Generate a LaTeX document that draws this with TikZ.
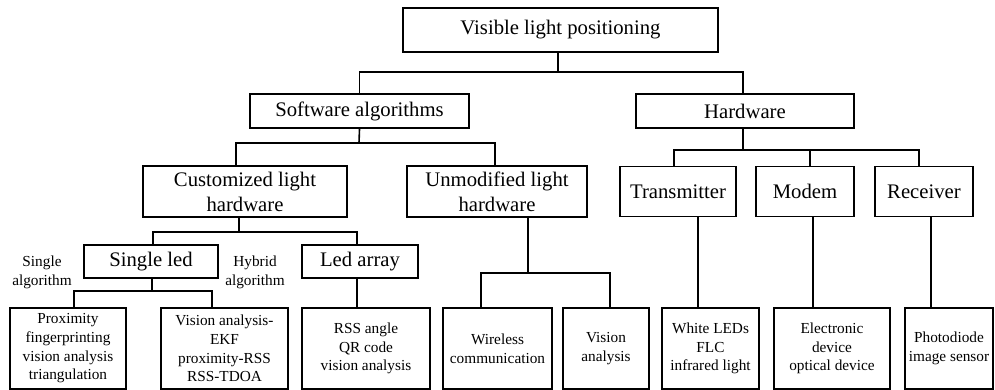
\documentclass[tikz,border=0pt]{standalone}
\usepackage{fontspec}
\setmainfont{Liberation Serif}
\begin{document}
\begin{tikzpicture}[x=1pt,y=-1pt,
  box/.style={draw,line width=1.9pt,inner sep=0pt,align=center,
    font=\fontsize{20.7}{25}\selectfont},
  leaf/.style={box,minimum height=81pt,font=\fontsize{15.3}{18.7}\selectfont},
  lbl/.style={inner sep=0pt,align=center,font=\fontsize{15.3}{19}\selectfont},
  conn/.style={line width=1.6pt}]
\useasboundingbox (0,0) rectangle (995,390);
% level 0
\node[box,minimum width=315pt,minimum height=44pt] (vlp) at (560.5,30) {Visible light positioning};
% level 1
\node[box,minimum width=219pt,minimum height=34pt] (sw) at (359.5,111) {Software algorithms};
\node[box,minimum width=218pt,minimum height=34pt] (hw) at (745,111) {Hardware};
% level 2
\node[box,minimum width=204pt,minimum height=51pt] (cust) at (245,191.5) {Customized light\\hardware};
\node[box,minimum width=180pt,minimum height=51pt] (unmod) at (497,191.5) {Unmodified light\\hardware};
\node[box,minimum width=116pt,minimum height=50pt] (trans) at (678,191.5) {Transmitter};
\node[box,minimum width=98pt,minimum height=50pt] (modem) at (805,191.5) {Modem};
\node[box,minimum width=98pt,minimum height=50pt] (recv) at (924,191.5) {Receiver};
% level 3
\node[box,minimum width=134pt,minimum height=33pt] (single) at (151,261.5) {Single led};
\node[box,minimum width=116pt,minimum height=33pt] (ledarr) at (360,261.5) {Led array};
\node[lbl] (salg) at (42,272) {Single\\algorithm};
\node[lbl] (halg) at (255,272) {Hybrid\\algorithm};
% leaves
\node[leaf,minimum width=116pt] (prox) at (68,348.5) {Proximity\\fingerprinting\\vision analysis\\triangulation};
\node[leaf,minimum width=127pt] (visekf) at (224.5,348.5) {Vision analysis-\\EKF\\proximity-RSS\\RSS-TDOA};
\node[leaf,minimum width=128pt] (rss) at (366,348.5) {RSS angle\\QR code\\vision analysis};
\node[leaf,minimum width=109pt] (wire) at (497.5,348.5) {Wireless\\communication};
\node[leaf,minimum width=86pt] (vis) at (606,348.5) {Vision\\analysis};
\node[leaf,minimum width=97pt] (white) at (710.5,348.5) {White LEDs\\FLC\\infrared light};
\node[leaf,minimum width=116pt] (elec) at (832,348.5) {Electronic\\device\\optical device};
\node[leaf,minimum width=88pt] (photo) at (949,348.5) {Photodiode\\image sensor};
% junctions
\coordinate (j0) at (558,72);
\coordinate (j1) at (359,143);
\coordinate (j2) at (743,150);
\coordinate (j3) at (239,232);
\coordinate (j4) at (152,291);
\coordinate (j5) at (528,273);
% connectors
\draw[conn] (vlp.south -| j0) -- (j0);
\draw[conn] (sw.north) |- (j0) -| ([xshift=-2]hw.north);
\draw[conn] (sw.south) -- (j1);
\draw[conn] ([xshift=-9]cust.north) |- (j1) -| ([xshift=-2]unmod.north);
\draw[conn] ([xshift=-2]hw.south) -- (j2);
\draw[conn] ([xshift=-4]trans.north) |- (j2) -| ([xshift=-5]recv.north);
\draw[conn] ([xshift=5]modem.north) -- ([xshift=5]modem.north |- j2);
\draw[conn] ([xshift=-6]cust.south) -- (j3);
\draw[conn] ([xshift=2]single.north) |- (j3) -| ([xshift=-3]ledarr.north);
\draw[conn] ([xshift=1]single.south) -- (j4);
\draw[conn] ([xshift=6]prox.north) |- (j4) -| ([xshift=-12.5]visekf.north);
\draw[conn] ([xshift=-3]ledarr.south) -- ([xshift=-9]rss.north);
\draw[conn] ([xshift=31]unmod.south) -- (j5);
\draw[conn] ([xshift=-16.5]wire.north) |- (j5) -| ([xshift=4]vis.north);
\draw[conn] ([xshift=20]trans.south) -- ([xshift=-12.5]white.north);
\draw[conn] ([xshift=8]modem.south) -- ([xshift=-19]elec.north);
\draw[conn] ([xshift=7]recv.south) -- ([xshift=-18]photo.north);
\end{tikzpicture}
\end{document}
